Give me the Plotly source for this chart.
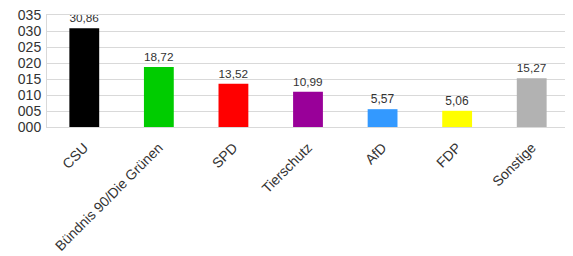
import plotly.graph_objects as go

parties = ["CSU", "Bündnis 90/Die Grünen", "SPD", "Tierschutz", "AfD", "FDP", "Sonstige"]
values = [30.86, 18.72, 13.52, 10.99, 5.57, 5.06, 15.27]
labels = ["30,86", "18,72", "13,52", "10,99", "5,57", "5,06", "15,27"]
colors = ["#000000", "#00cc00", "#ff0000", "#990099", "#3399ff", "#ffff00", "#b2b2b2"]
yticks = [0, 5, 10, 15, 20, 25, 30, 35]
ytick_text = ["000", "005", "010", "015", "020", "025", "030", "035"]

fig = go.Figure(go.Bar(
    x=parties, y=values, text=labels, textposition="outside",
    marker=dict(color=colors, line=dict(width=0)),
    textfont=dict(family="Liberation Sans, Arial", size=12, color="#333333"),
    cliponaxis=False, width=0.4,
))
fig.update_layout(
    width=565, height=248,
    margin=dict(l=39, r=4, t=7, b=129),
    paper_bgcolor="white", plot_bgcolor="white",
    showlegend=False,
    font=dict(family="Liberation Sans, Arial", size=11, color="#333333"),
    bargap=0.6,
)
fig.update_xaxes(tickangle=-45, showline=True, linecolor="#d9d9d9", mirror=True,
                 automargin=False, ticks="", ticklabelstandoff=6,
                 ticklabeloverflow="allow",
                 tickfont=dict(size=14, color="#333333"))
fig.update_yaxes(range=[0, 35], tickvals=yticks, ticktext=ytick_text,
                 showgrid=True, gridcolor="#d9d9d9", showline=True, linecolor="#d9d9d9",
                 mirror=True, zeroline=False, ticks="", automargin=False,
                 ticklabeloverflow="allow", ticklabelstandoff=2,
                 tickfont=dict(size=14, color="#333333"))
fig.write_html("out.html")
